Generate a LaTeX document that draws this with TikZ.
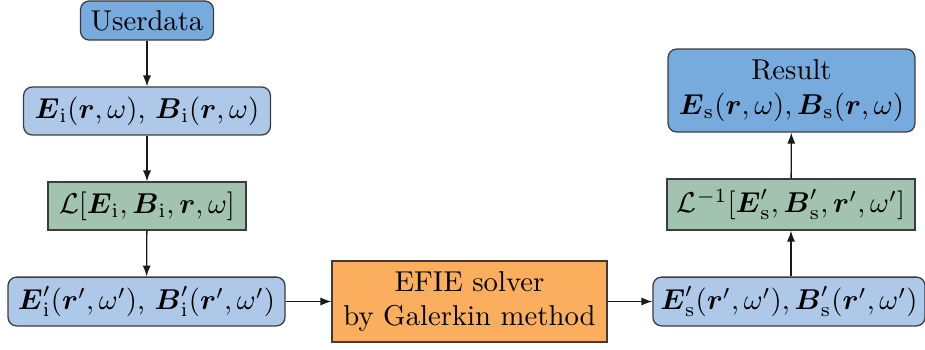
\documentclass[tikz,border=0pt]{standalone}
\usepackage{amsmath,amssymb}
\usetikzlibrary{arrows.meta}
\definecolor{bluedark}{RGB}{119,170,221}
\definecolor{bluelight}{RGB}{174,200,233}
\definecolor{greenbox}{RGB}{162,195,175}
\definecolor{orangebox}{RGB}{251,174,94}
\definecolor{edge}{RGB}{60,60,60}
\definecolor{wire}{RGB}{25,25,25}
\newcommand{\bvec}[1]{\boldsymbol{#1}}
\begin{document}
\begin{tikzpicture}[x=0.3484pt,y=-0.3484pt,
  box/.style={draw=edge,line width=0.45pt,inner sep=0pt,align=center,font=\normalsize},
  rbox/.style={box,rounded corners=3pt},
  flow/.style={draw=wire,line width=0.45pt,-{Latex[length=3.8pt,width=2.8pt]}}]
\useasboundingbox (0,0) rectangle (925,349);
\node[rbox,fill=bluedark,minimum width=46.3pt,minimum height=13.6pt] (user) at (147,20.5) {Userdata};
\node[rbox,fill=bluelight,minimum width=86pt,minimum height=16.7pt] (ei) at (147,111) {$\bvec{E}_\mathrm{i}(\bvec{r},\omega)$, $\bvec{B}_\mathrm{i}(\bvec{r},\omega)$};
\node[box,fill=greenbox,minimum width=69pt,minimum height=16.7pt] (lap) at (147,206) {$\mathcal{L}[\bvec{E}_\mathrm{i},\bvec{B}_\mathrm{i},\bvec{r},\omega]$};
\node[rbox,fill=bluelight,minimum width=96.5pt,minimum height=17pt] (eip) at (146.5,301.5) {$\bvec{E}'_\mathrm{i}(\bvec{r}',\omega')$, $\bvec{B}'_\mathrm{i}(\bvec{r}',\omega')$};
\node[box,fill=orangebox,minimum width=95.8pt,minimum height=28.2pt] (efie) at (469.5,301.5) {EFIE solver\\by Galerkin method};
\node[rbox,fill=bluelight,minimum width=94.8pt,minimum height=17pt] (esp) at (789,301.5) {$\bvec{E}'_\mathrm{s}(\bvec{r}',\omega'),\bvec{B}'_\mathrm{s}(\bvec{r}',\omega')$};
\node[box,fill=greenbox,minimum width=86.4pt,minimum height=17.8pt] (ilap) at (791,204.5) {$\mathcal{L}^{-1}[\bvec{E}'_\mathrm{s},\bvec{B}'_\mathrm{s},\bvec{r}',\omega']$};
\node[rbox,fill=bluedark,minimum width=86pt,minimum height=28.9pt] (res) at (791.5,90.5) {Result\\$\bvec{E}_\mathrm{s}(\bvec{r},\omega),\bvec{B}_\mathrm{s}(\bvec{r},\omega)$};
\draw[flow] (user) -- (ei);
\draw[flow] (ei) -- (lap);
\draw[flow] (lap) -- (eip);
\draw[flow] (eip) -- (efie);
\draw[flow] (efie) -- (esp);
\draw[flow] (esp.north -| ilap) -- (ilap);
\draw[flow] (ilap) -- (res);
\end{tikzpicture}
\end{document}
